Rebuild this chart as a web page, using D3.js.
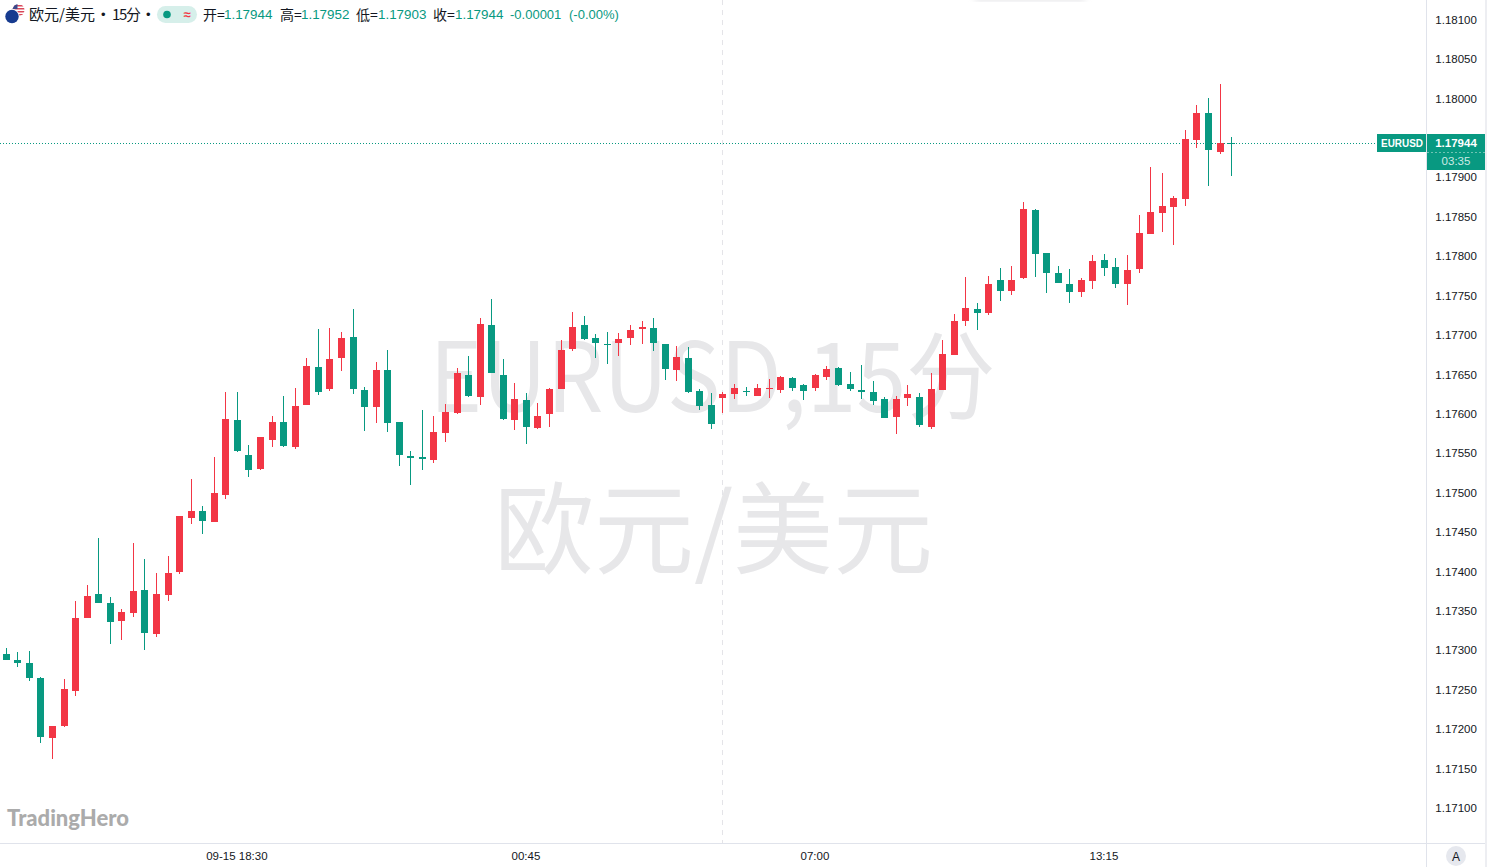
<!DOCTYPE html>
<html><head><meta charset="utf-8">
<script src="https://cdnjs.cloudflare.com/ajax/libs/d3/7.8.5/d3.min.js"></script>
<style>html,body{margin:0;padding:0;background:#fff;overflow:hidden}svg{display:block}</style>
</head><body><svg id="c" width="1487" height="867"></svg>
<script>
const highs=[1.17304,1.17299,1.17300,1.17267,1.17205,1.17264,1.17364,1.17384,1.17444,1.17369,
1.17354,1.17437,1.17417,1.17399,1.17421,1.17471,1.17518,1.17484,1.17546,1.17629,
1.17629,1.17561,1.17572,1.17598,1.17624,1.17634,1.17672,1.17709,1.17710,1.17705,
1.17734,1.17635,1.17667,1.17682,1.17591,1.17554,1.17606,1.17598,1.17613,1.17659,
1.17674,1.17723,1.17747,1.17671,1.17640,1.17627,1.17615,1.17634,1.17695,1.17730,
1.17725,1.17702,1.17705,1.17704,1.17714,1.17719,1.17723,1.17690,1.17687,1.17686,
1.17632,1.17627,1.17629,1.17639,1.17635,1.17639,1.17645,1.17649,1.17648,1.17639,
1.17652,1.17662,1.17660,1.17654,1.17663,1.17643,1.17622,1.17624,1.17638,1.17627,
1.17653,1.17695,1.17728,1.17775,1.17742,1.17776,1.17786,1.17788,1.17870,1.17861,
1.17805,1.17788,1.17785,1.17773,1.17802,1.17804,1.17799,1.17802,1.17853,1.17914,
1.17906,1.17877,1.17961,1.17993,1.18001,1.18019,1.17952];
const lows=[1.17289,1.17280,1.17262,1.17184,1.17163,1.17204,1.17243,1.17342,1.17361,1.17309,
1.17314,1.17343,1.17302,1.17318,1.17364,1.17398,1.17461,1.17449,1.17464,1.17493,
1.17553,1.17521,1.17530,1.17559,1.17559,1.17556,1.17612,1.17625,1.17630,1.17655,
1.17626,1.17579,1.17589,1.17578,1.17535,1.17511,1.17530,1.17539,1.17565,1.17601,
1.17622,1.17612,1.17653,1.17593,1.17581,1.17563,1.17582,1.17584,1.17632,1.17681,
1.17695,1.17672,1.17664,1.17674,1.17688,1.17690,1.17681,1.17644,1.17643,1.17627,
1.17606,1.17582,1.17602,1.17620,1.17624,1.17624,1.17621,1.17627,1.17630,1.17619,
1.17630,1.17644,1.17636,1.17630,1.17620,1.17612,1.17596,1.17575,1.17611,1.17584,
1.17582,1.17631,1.17676,1.17712,1.17707,1.17726,1.17744,1.17752,1.17772,1.17775,
1.17754,1.17767,1.17742,1.17749,1.17759,1.17776,1.17761,1.17739,1.17780,1.17829,
1.17832,1.17815,1.17865,1.17938,1.17890,1.17930,1.17903];
const opens=[1.17296,1.17289,1.17285,1.17266,1.17190,1.17205,1.17250,1.17342,1.17373,1.17361,
1.17338,1.17348,1.17378,1.17322,1.17371,1.17400,1.17469,1.17478,1.17464,1.17498,
1.17593,1.17549,1.17531,1.17568,1.17591,1.17559,1.17612,1.17660,1.17632,1.17672,
1.17698,1.17631,1.17610,1.17657,1.17591,1.17548,1.17546,1.17542,1.17577,1.17602,
1.17650,1.17622,1.17714,1.17650,1.17593,1.17619,1.17583,1.17601,1.17632,1.17683,
1.17714,1.17697,1.17690,1.17691,1.17697,1.17709,1.17710,1.17690,1.17657,1.17672,
1.17630,1.17612,1.17621,1.17626,1.17630,1.17624,1.17632,1.17631,1.17646,1.17638,
1.17634,1.17648,1.17659,1.17639,1.17631,1.17629,1.17620,1.17597,1.17621,1.17622,
1.17584,1.17631,1.17676,1.17719,1.17734,1.17729,1.17771,1.17757,1.17773,1.17859,
1.17805,1.17780,1.17766,1.17755,1.17769,1.17796,1.17787,1.17766,1.17785,1.17829,
1.17856,1.17863,1.17873,1.17948,1.17982,1.17933,1.17944];
const closes=[1.17289,1.17285,1.17266,1.17191,1.17205,1.17252,1.17342,1.17370,1.17361,1.17337,
1.17350,1.17376,1.17323,1.17373,1.17399,1.17471,1.17478,1.17465,1.17501,1.17594,
1.17554,1.17530,1.17572,1.17591,1.17560,1.17611,1.17662,1.17629,1.17671,1.17697,
1.17632,1.17610,1.17657,1.17589,1.17549,1.17545,1.17544,1.17578,1.17603,1.17653,
1.17624,1.17715,1.17653,1.17594,1.17620,1.17584,1.17598,1.17632,1.17682,1.17711,
1.17696,1.17691,1.17688,1.17696,1.17707,1.17711,1.17691,1.17658,1.17673,1.17629,
1.17611,1.17588,1.17626,1.17634,1.17629,1.17634,1.17634,1.17648,1.17634,1.17630,
1.17650,1.17658,1.17638,1.17632,1.17629,1.17617,1.17596,1.17620,1.17626,1.17587,
1.17632,1.17677,1.17719,1.17735,1.17729,1.17766,1.17757,1.17771,1.17861,1.17804,
1.17780,1.17767,1.17755,1.17771,1.17795,1.17786,1.17766,1.17783,1.17830,1.17857,
1.17865,1.17875,1.17949,1.17982,1.17936,1.17945,1.17944];
const priceTicks=[1.181,1.1805,1.18,1.179,1.1785,1.178,1.1775,1.177,1.1765,1.176,1.1755,1.175,1.1745,1.174,1.1735,1.173,1.1725,1.172,1.1715,1.171];
const timeIdx=[20,45,70,95];
const timeLabels=["09-15 18:30","00:45","07:00","13:15"];
const crossIdx=62;
const lastPrice=1.17944;
const symbolName="EURUSD";
const countdown="03:35";
const headerItems=[["开=","1.17944",203,224],["高=","1.17952",280,301],["低=","1.17903",356,378],["收=","1.17944",433,455]];

const UP="#F23645",DOWN="#089981",INK="#131722",BORDER="#E0E3EB";
const FONT='"Liberation Sans","Noto Sans CJK SC",sans-serif';
const CJK='"Noto Sans CJK SC","Liberation Sans",sans-serif';
const svg=d3.select("#c");
const x=d3.scaleLinear().domain([0,106]).range([6.2,1231.56]);
const y=d3.scaleLinear().domain([1.171,1.181]).range([808.8,20.3]);
const px=i=>Math.floor(x(i));
const py=v=>Math.round(y(v));

const defs=svg.append("defs");
defs.append("filter").attr("id","bl").append("feGaussianBlur").attr("stdDeviation",3);
const cp=defs.append("clipPath").attr("id","flagA");cp.append("circle").attr("cx",18.5).attr("cy",10).attr("r",6);

// top shadow
svg.append("rect").attr("x",975).attr("y",-8).attr("width",110).attr("height",9).attr("fill","#e6e6e9").attr("filter","url(#bl)");

// watermark
const wm=svg.append("g").attr("fill","#E7E7E9").attr("font-family",CJK).attr("text-anchor","middle");
wm.append("text").attr("x",712.5).attr("y",412).attr("font-size",97).attr("textLength",566).attr("lengthAdjust","spacingAndGlyphs").text("EURUSD,15分");
wm.append("text").attr("x",713.5).attr("y",566).attr("font-size",100).text("欧元/美元");

// crosshair + last price line
svg.append("line").attr("x1",px(crossIdx)+.5).attr("x2",px(crossIdx)+.5).attr("y1",0).attr("y2",843)
  .attr("stroke","#E4E4E8").attr("stroke-dasharray","5 5");
svg.append("line").attr("x1",0).attr("x2",1377).attr("y1",py(lastPrice)+.5).attr("y2",py(lastPrice)+.5)
  .attr("stroke",DOWN).attr("stroke-dasharray","1 2");

// candles
const idx=d3.range(closes.length);
const col=i=>closes[i]>opens[i]?UP:DOWN;
const cg=svg.append("g").attr("shape-rendering","crispEdges");
cg.selectAll("rect.w").data(idx).join("rect").attr("class","w")
  .attr("x",i=>px(i)).attr("width",1)
  .attr("y",i=>py(highs[i])).attr("height",i=>py(lows[i])-py(highs[i])).attr("fill",col);
cg.selectAll("rect.b").data(idx).join("rect").attr("class","b")
  .attr("x",i=>px(i)-3).attr("width",7)
  .attr("y",i=>py(Math.max(opens[i],closes[i])))
  .attr("height",i=>Math.max(1,py(Math.min(opens[i],closes[i]))-py(Math.max(opens[i],closes[i]))))
  .attr("fill",col);

// axes
const ya=svg.append("g").attr("transform","translate(1426.5,0)")
  .call(d3.axisRight(y).tickValues(priceTicks).tickSize(0).tickPadding(8.8).tickFormat(d3.format(".5f")));
ya.select(".domain").remove();
ya.selectAll("text").attr("font-family",FONT).attr("font-size",11.5).attr("fill",INK).attr("dy","0.25em");
const xa=svg.append("g").attr("transform","translate(-1,843.5)")
  .call(d3.axisBottom(x).tickValues(timeIdx).tickSize(0).tickPadding(8).tickFormat((d,i)=>timeLabels[i]));
xa.select(".domain").remove();
xa.selectAll("text").attr("font-family",FONT).attr("font-size",11.5).attr("fill",INK);

const bg=svg.append("g").attr("shape-rendering","crispEdges");
bg.append("line").attr("x1",0).attr("x2",1487).attr("y1",843.5).attr("y2",843.5).attr("stroke",BORDER);
bg.append("line").attr("x1",1426.5).attr("x2",1426.5).attr("y1",0).attr("y2",867).attr("stroke",BORDER);
bg.append("rect").attr("x",1485).attr("y",0).attr("width",2).attr("height",867).attr("fill","#EDEEF2");

// last price tags
const ty=py(lastPrice);
svg.append("rect").attr("x",1377).attr("y",ty-9).attr("width",49).attr("height",18).attr("fill",DOWN);
svg.append("rect").attr("x",1427).attr("y",ty-9).attr("width",58).attr("height",36).attr("fill",DOWN);
svg.append("line").attr("x1",1427).attr("x2",1485).attr("y1",ty+9.5).attr("y2",ty+9.5).attr("stroke","#6fc3b3").attr("stroke-dasharray","2 2");
svg.append("text").attr("x",1402).attr("y",ty+4).attr("text-anchor","middle").attr("font-family",FONT).attr("font-size",11.5).attr("font-weight",700).attr("textLength",42).attr("lengthAdjust","spacingAndGlyphs").attr("fill","#fff").text(symbolName);
svg.append("text").attr("x",1456).attr("y",ty+4).attr("text-anchor","middle").attr("font-family",FONT).attr("font-size",11.5).attr("font-weight",700).attr("fill","#fff").text(d3.format(".5f")(lastPrice));
svg.append("text").attr("x",1456).attr("y",ty+22).attr("text-anchor","middle").attr("font-family",FONT).attr("font-size",11.5).attr("fill","#CDEBE5").text(countdown);

// auto button
svg.append("circle").attr("cx",1456).attr("cy",856).attr("r",10).attr("fill","#E6E8EE");
svg.append("text").attr("x",1456).attr("y",860.5).attr("text-anchor","middle").attr("font-family",FONT).attr("font-size",12).attr("fill",INK).text("A");

// header
const flag=svg.append("g");
flag.append("circle").attr("cx",18.5).attr("cy",10).attr("r",6).attr("fill","#fff");
[5,8,11,14].forEach(v=>flag.append("rect").attr("x",12).attr("y",v).attr("width",13).attr("height",1.5).attr("fill","#D9495A").attr("clip-path","url(#flagA)"));
flag.append("rect").attr("x",12).attr("y",4).attr("width",5.5).attr("height",5).attr("fill","#3C4A8C").attr("clip-path","url(#flagA)");
flag.append("circle").attr("cx",12).attr("cy",16.5).attr("r",7.4).attr("fill","#fff");
flag.append("circle").attr("cx",12).attr("cy",16.5).attr("r",6.7).attr("fill","#173B8F");

const hd=svg.append("g").attr("font-family",FONT).attr("font-size",13.4).attr("fill",INK);
hd.append("text").attr("x",29).attr("y",19.5).attr("font-family",CJK).attr("font-size",15).text("欧元/美元");
hd.append("text").attr("x",101).attr("y",19).attr("font-family",FONT).attr("font-size",13).text("•");
hd.append("text").attr("x",112).attr("y",19.5).attr("font-family",CJK).attr("font-size",15).attr("textLength",29).text("15分");
hd.append("text").attr("x",146).attr("y",19).attr("font-family",FONT).attr("font-size",13).text("•");
svg.append("rect").attr("x",157).attr("y",6).attr("width",40).attr("height",17).attr("rx",8.5).attr("fill","#D6EFEA");
svg.append("circle").attr("cx",167).attr("cy",14.5).attr("r",3.8).attr("fill",DOWN);
svg.append("text").attr("x",187).attr("y",19).attr("text-anchor","middle").attr("font-family",FONT).attr("font-size",13).attr("font-weight",700).attr("fill",UP).text("≈");
headerItems.forEach(d=>{
  hd.append("text").attr("x",d[2]).attr("y",19.5).attr("font-family",CJK).attr("font-size",14).text(d[0]);
  hd.append("text").attr("x",d[3]).attr("y",19).attr("fill",DOWN).text(d[1]);
});
hd.append("text").attr("x",510).attr("y",19).attr("fill",DOWN).attr("font-size",13).text("-0.00001");
hd.append("text").attr("x",569).attr("y",19).attr("fill",DOWN).attr("font-size",13).text("(-0.00%)");

// logo
svg.append("text").attr("x",7).attr("y",826).attr("font-family",'Lato,"Liberation Sans",sans-serif').attr("font-weight",900).attr("font-size",22).attr("fill","#ABABAB").text("TradingHero");
</script></body></html>
